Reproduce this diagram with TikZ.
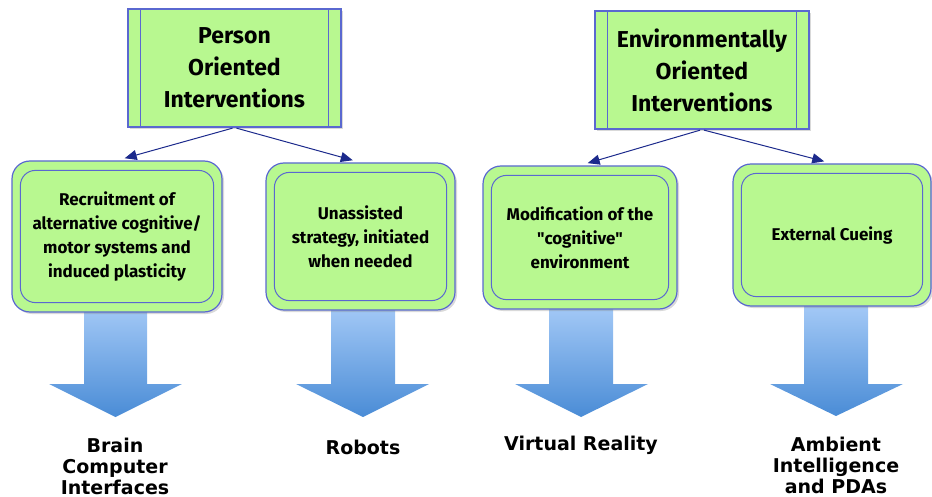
\documentclass[tikz,border=0pt]{standalone}
\usepackage{fontspec}
\setmainfont{Fira Sans}[Ligatures=TeXOff]
\newfontfamily\labelfont{DejaVu Sans}
\usetikzlibrary{shadows,arrows.meta}

\definecolor{boxgreen}{HTML}{B8F890}
\definecolor{boxblue}{HTML}{5A68D0}
\definecolor{linknavy}{HTML}{1C2A8C}
\definecolor{arrowtop}{HTML}{A8CCF8}
\definecolor{arrowbot}{HTML}{4A8CD6}

\begin{document}
\begin{tikzpicture}[x=1pt,y=-1pt,
  process/.style={draw=boxblue, line width=1.2pt, fill=boxgreen, inner sep=0pt, align=center,
    drop shadow={shadow xshift=2pt, shadow yshift=-2pt, opacity=0.3},
    font=\fontsize{23}{32}\selectfont\bfseries},
  card/.style={rectangle, rounded corners=18pt, draw=boxblue, line width=1.2pt, fill=boxgreen, inner sep=0pt, align=center,
    drop shadow={shadow xshift=2pt, shadow yshift=-2pt, opacity=0.3},
    font=\fontsize{17}{24}\selectfont\bfseries},
  inner/.style={draw=boxblue, line width=1pt, rounded corners=15pt},
  link/.style={draw=linknavy, line width=1pt, -{Triangle[length=12pt,width=10pt]}, shorten <=2pt, shorten >=8pt},
  result/.style={align=center, font=\labelfont\fontsize{19}{21}\selectfont\bfseries},
  bigarrow/.style={top color=arrowtop, bottom color=arrowbot}]
  \useasboundingbox (0,0) rectangle (932,497);

  % Big arrows behind the cards
  \shade[bigarrow] (84,300) -- (147,300) -- (147,384) -- (182,384) -- (115.5,417) -- (49,384) -- (84,384) -- cycle;
  \shade[bigarrow] (331,300) -- (395,300) -- (395,384) -- (429,384) -- (363,417) -- (296,384) -- (331,384) -- cycle;
  \shade[bigarrow] (549,300) -- (613,300) -- (613,384) -- (648,384) -- (581,417) -- (515,384) -- (549,384) -- cycle;
  \shade[bigarrow] (804,300) -- (868,300) -- (868,384) -- (903,384) -- (836,416) -- (770,384) -- (804,384) -- cycle;

  % Top level
  \node[process, minimum width=213pt, minimum height=118pt] (pers) at (234.5,68) {Person\\Oriented\\Interventions};
  \node[process, minimum width=214pt, minimum height=118pt] (envi) at (702,70) {Environmentally\\Oriented\\Interventions};
  \draw[boxblue, line width=1.2pt] ([xshift=13pt]pers.north west) -- ([xshift=13pt]pers.south west);
  \draw[boxblue, line width=1.2pt] ([xshift=-13pt]pers.north east) -- ([xshift=-13pt]pers.south east);
  \draw[boxblue, line width=1.2pt] ([xshift=13pt]envi.north west) -- ([xshift=13pt]envi.south west);
  \draw[boxblue, line width=1.2pt] ([xshift=-13pt]envi.north east) -- ([xshift=-13pt]envi.south east);

  % Cards
  \node[card, minimum width=210pt, minimum height=151pt] (recr) at (117,236.5) {Recruitment of\\alternative cognitive/\\motor systems and\\induced plasticity};
  \node[card, minimum width=189pt, minimum height=147pt] (unas) at (360.5,236.5) {Unassisted\\strategy, initiated\\when needed};
  \node[card, minimum width=194pt, minimum height=143pt] (modi) at (580,237.5) {Modification of the\\"cognitive"\\environment};
  \node[card, minimum width=198pt, minimum height=142pt] (cueg) at (832,235) {External Cueing};
  \draw[inner] ([shift={(9pt,-10pt)}]recr.north west) rectangle ([shift={(-9pt,10pt)}]recr.south east);
  \draw[inner] ([shift={(9pt,-10pt)}]unas.north west) rectangle ([shift={(-9pt,10pt)}]unas.south east);
  \draw[inner] ([shift={(9pt,-10pt)}]modi.north west) rectangle ([shift={(-9pt,10pt)}]modi.south east);
  \draw[inner] ([shift={(9pt,-10pt)}]cueg.north west) rectangle ([shift={(-9pt,10pt)}]cueg.south east);

  % Links
  \draw[link] (pers.south) -- (recr.north);
  \draw[link] (pers.south) -- (unas.north);
  \draw[link] (envi.south) -- (modi.north);
  \draw[link] (envi.south) -- (cueg.north);

  % Results
  \node[result] (bci) at (115,466) {Brain\\Computer\\Interfaces};
  \node[result] (robo) at (363,447) {Robots};
  \node[result] (vr) at (581,445) {Virtual Reality};
  \node[result] (ami) at (836,465) {Ambient\\Intelligence\\and PDAs};
\end{tikzpicture}
\end{document}
